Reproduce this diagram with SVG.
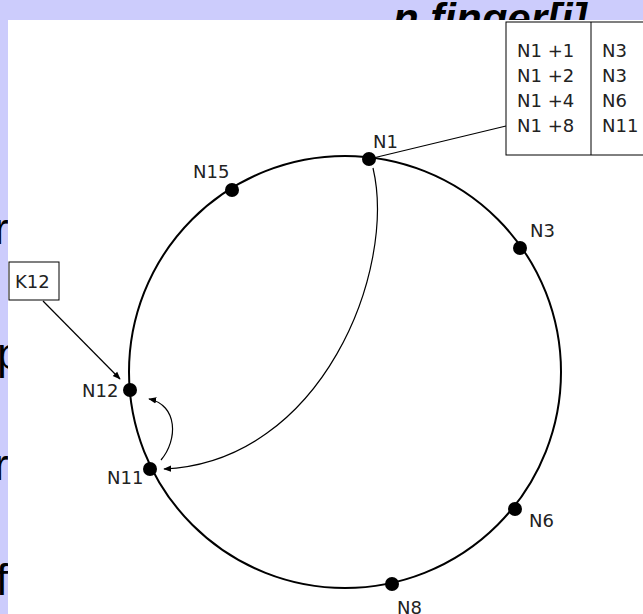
<svg xmlns="http://www.w3.org/2000/svg" width="643" height="614" viewBox="0 0 643 614">
<defs>
<style>
.lbl{font-family:"DejaVu Sans","Liberation Sans",Arial,sans-serif;font-size:18px;fill:#222}
.bg{font-family:"Liberation Sans",Arial,sans-serif;font-size:44px;fill:#000}
.ring{fill:none;stroke:#000;stroke-width:2}
.dot{fill:#000}
.con{fill:none;stroke:#000;stroke-width:1.2}
</style>
<clipPath id="topclip"><rect x="0" y="0" width="643" height="20"/></clipPath>
<clipPath id="leftclip"><rect x="0" y="0" width="8" height="614"/></clipPath>
<marker id="ah" viewBox="0 0 10 10" refX="9" refY="5" markerWidth="8" markerHeight="8" markerUnits="userSpaceOnUse" orient="auto">
<path d="M0,1 L10,5 L0,9 z" fill="#000"/>
</marker>
</defs>
<rect x="0" y="0" width="643" height="614" fill="#ccccfc"/>
<g clip-path="url(#topclip)">
<text class="bg" x="393" y="33" style="font-weight:bold;font-style:italic;font-size:42px">n finger[i]</text>
</g>
<g clip-path="url(#leftclip)">
<text class="bg" x="-6" y="244">r</text>
<text class="bg" x="-3" y="369">p</text>
<text class="bg" x="-6" y="480">r</text>
<text class="bg" x="-4" y="595">f</text>
</g>
<rect x="8" y="20" width="635" height="594" fill="#fff"/>

<circle class="ring" cx="345" cy="372" r="216"/>

<g id="connectors">
<line class="con" x1="369" y1="159" x2="506" y2="126"/>
<path class="con" d="M373,168 C397,270 322,462 164,469" marker-end="url(#ah)"/>
<path class="con" d="M161,460 C178,440 178,405 149,399" marker-end="url(#ah)"/>
<line class="con" x1="43" y1="301" x2="120" y2="379" marker-end="url(#ah)"/>
</g>

<g id="N1"><circle class="dot" cx="369" cy="159" r="7"/><text class="lbl" x="373" y="148">N1</text></g>
<g id="N3"><circle class="dot" cx="520" cy="248" r="7"/><text class="lbl" x="530" y="237">N3</text></g>
<g id="N6"><circle class="dot" cx="515" cy="509" r="7"/><text class="lbl" x="529" y="527">N6</text></g>
<g id="N8"><circle class="dot" cx="392" cy="584" r="7"/><text class="lbl" x="397" y="614">N8</text></g>
<g id="N11"><circle class="dot" cx="150" cy="469" r="7"/><text class="lbl" x="107" y="484">N11</text></g>
<g id="N12"><circle class="dot" cx="130" cy="390" r="7"/><text class="lbl" x="82" y="397">N12</text></g>
<g id="N15"><circle class="dot" cx="232" cy="190" r="7"/><text class="lbl" x="193" y="178">N15</text></g>

<g id="K12">
<rect x="9" y="262" width="50" height="38" fill="#fff" stroke="#000" stroke-width="1"/>
<text class="lbl" x="15" y="288">K12</text>
</g>

<g id="finger-table">
<rect x="506" y="22" width="150" height="133" fill="#fff" stroke="#000" stroke-width="1"/>
<line x1="591" y1="22" x2="591" y2="155" stroke="#000" stroke-width="1"/>
<text class="lbl" x="517" y="57">N1 +1</text>
<text class="lbl" x="517" y="82">N1 +2</text>
<text class="lbl" x="517" y="107">N1 +4</text>
<text class="lbl" x="517" y="132">N1 +8</text>
<text class="lbl" x="602" y="57">N3</text>
<text class="lbl" x="602" y="82">N3</text>
<text class="lbl" x="602" y="107">N6</text>
<text class="lbl" x="602" y="132">N11</text>
</g>
</svg>
